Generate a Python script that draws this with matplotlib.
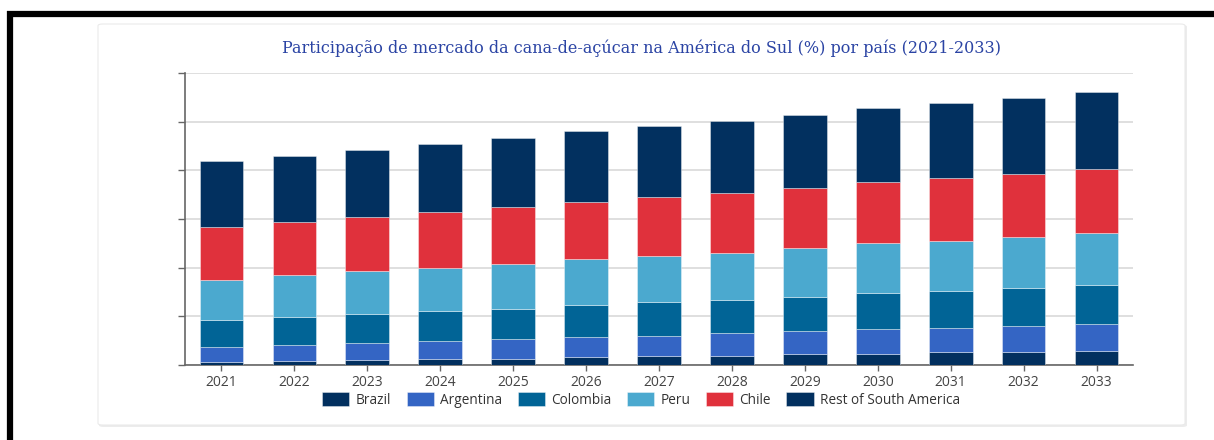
import matplotlib
matplotlib.use("Agg")
import matplotlib.pyplot as plt
import matplotlib.patches as mpatches
from matplotlib.legend_handler import HandlerPatch
from matplotlib.lines import Line2D

# ---------------------------------------------------------------------------
# Data (arbitrary share units)
# ---------------------------------------------------------------------------
anos = ["2021", "2022", "2023", "2024", "2025", "2026", "2027",
        "2028", "2029", "2030", "2031", "2032", "2033"]

brazil    = [0.55, 0.76, 0.97, 1.17, 1.30, 1.58, 1.85, 1.90, 2.20, 2.20, 2.60, 2.67, 2.94]
argentina = [3.10, 3.35, 3.50, 3.76, 4.00, 4.19, 4.17, 4.60, 4.80, 5.20, 5.07, 5.40, 5.48]
colombia  = [5.60, 5.75, 6.00, 6.16, 6.30, 6.57, 6.90, 6.90, 7.05, 7.30, 7.50, 7.74, 7.95]
peru      = [8.30, 8.56, 8.80, 8.90, 9.20, 9.38, 9.45, 9.70, 9.94, 10.40, 10.40, 10.50, 10.70]
chile     = [10.80, 10.90, 11.20, 11.40, 11.70, 11.80, 12.05, 12.20, 12.40, 12.50, 12.90, 13.00, 13.30]
rest      = [13.50, 13.70, 13.80, 14.00, 14.10, 14.50, 14.60, 14.90, 15.00, 15.30, 15.40, 15.60, 15.80]

series = [
    ("Brazil", brazil, "#02305f"),
    ("Argentina", argentina, "#3465c4"),
    ("Colombia", colombia, "#016496"),
    ("Peru", peru, "#4ba9cf"),
    ("Chile", chile, "#e0313c"),
    ("Rest of South America", rest, "#02305f"),
]

TITEL = "Participação de mercado da cana-de-açúcar na América do Sul (%) por país (2021-2033)"

# ---------------------------------------------------------------------------
# Figuur + kader
# ---------------------------------------------------------------------------
W, H = 1214, 440
fig = plt.figure(figsize=(W / 100, H / 100), dpi=100)
fig.patch.set_facecolor("white")

# zwarte rand boven en links
fig.add_artist(Line2D([7 / W, 1], [1 - 14 / H, 1 - 14 / H], color="black", lw=4.5,
                      transform=fig.transFigure, solid_capstyle="butt"))
fig.add_artist(Line2D([10 / W, 10 / W], [0, 1 - 11 / H], color="black", lw=4.5,
                      transform=fig.transFigure, solid_capstyle="butt"))

# kaart met lichte schaduw
fig.add_artist(mpatches.FancyBboxPatch(
    (99 / W, (440 - 427) / H), (1187 - 99) / W, (427 - 25) / H,
    boxstyle="round,pad=0,rounding_size=0.004", transform=fig.transFigure,
    facecolor="#ececec", edgecolor="none", zorder=0))
fig.add_artist(mpatches.FancyBboxPatch(
    (98 / W, (440 - 425) / H), (1185 - 98) / W, (425 - 24) / H,
    boxstyle="round,pad=0,rounding_size=0.004", transform=fig.transFigure,
    facecolor="white", edgecolor="#eaeaea", lw=0.8, zorder=0))

# ---------------------------------------------------------------------------
# Grafiek
# ---------------------------------------------------------------------------
ax = fig.add_axes([185 / W, (440 - 365) / H, (1133 - 185) / W, (365 - 73) / H])
ax.set_facecolor("none")

x = list(range(len(anos)))
onder = [0.0] * len(anos)
for naam, waarden, kleur in series:
    ax.bar(x, waarden, width=0.6, bottom=onder, color=kleur, label=naam,
           edgecolor=(1, 1, 1, 0.45), linewidth=0.6, zorder=3)
    onder = [o + v for o, v in zip(onder, waarden)]

ax.set_xlim(-0.5, len(anos) - 0.5)
ax.set_ylim(0, 60)
ax.set_yticks(range(0, 61, 10))
ax.set_yticklabels([])
ax.set_xticks(x)
ax.set_xticklabels(anos, fontsize=10, color="#444444", family="Open Sans")
ax.tick_params(axis="y", length=5, color="#666666", width=1)
ax.tick_params(axis="x", length=4, color="#666666", width=1, pad=3)
ax.grid(axis="y", color="#d9d9d9", lw=1.2, zorder=0)

for kant in ["top", "right"]:
    ax.spines[kant].set_visible(False)
ax.spines["left"].set_color("#666666")
ax.spines["bottom"].set_color("#666666")
ax.spines["left"].set_linewidth(1.2)
ax.spines["bottom"].set_linewidth(1.2)

fig.text(642 / W, 1 - 48 / H, TITEL, ha="center", va="center",
         fontsize=11.5, color="#2b44a4", family="DejaVu Serif")


# afgeronde legendablokjes
def rond_blokje(legend, orig_handle, xdescent, ydescent, width, height, fontsize):
    return mpatches.FancyBboxPatch((-xdescent, -ydescent), width, height,
                                   boxstyle="round,pad=0,rounding_size=4")


handles, labels = ax.get_legend_handles_labels()
fig.legend(handles, labels, loc="center", bbox_to_anchor=(641 / W, 1 - 400 / H),
           ncol=6, frameon=False, prop={"family": "Open Sans", "size": 9.8},
           handlelength=2.0, handleheight=1.15, handletextpad=0.45, columnspacing=1.15,
           labelcolor="#333333",
           handler_map={mpatches.Rectangle: HandlerPatch(patch_func=rond_blokje)})

fig.savefig("out.png", dpi=100, facecolor="white")
